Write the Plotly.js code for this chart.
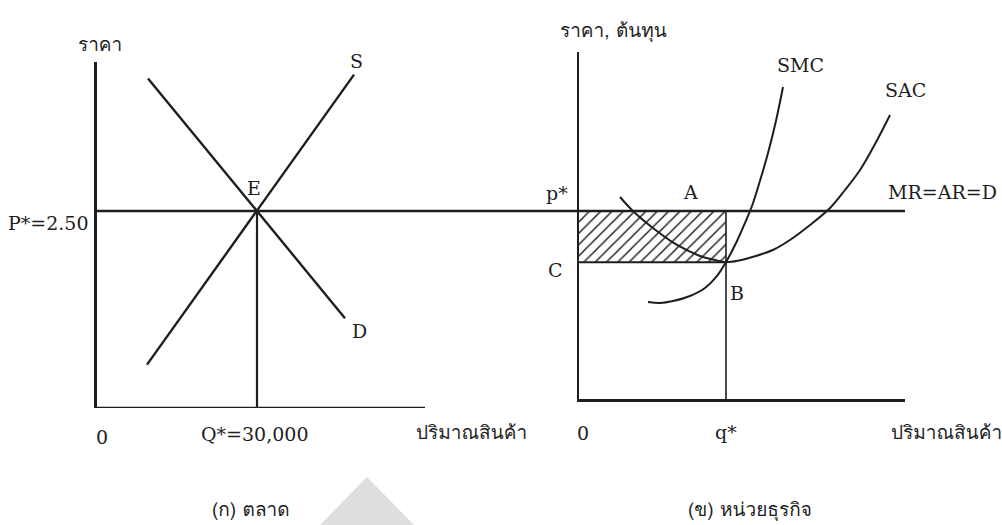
<!DOCTYPE html>
<html>
<head>
<meta charset="utf-8">
<script src="https://cdn.plot.ly/plotly-3.0.1.min.js"></script>
<style>html,body{margin:0;padding:0;background:#fff;}#chart{width:1002px;height:525px;}</style>
</head>
<body>
<div id="chart"></div>
<script>
// ---------- (ก) market ----------
const marketPrice = 2.50;           // P*
const marketQty = 30000;            // Q*
const demandQ = [9560, 46500];
const demandP = [4.18, 1.14];
const supplyQ = [9375, 48190];
const supplyP = [0.55, 4.23];
const marketAxisQEnd = 61500;       // end of drawn quantity axis
const marketQRange = [0, 90375];
const marketPRange = [0, 4.39];

// ---------- (ข) firm ----------
const firmPrice = 2.50;             // p*
const firmQty = 100;                // q*
const firmCost = 1.82;              // C (min SAC at B)
const smcQ = [46.9, 55.1, 63.9, 75.5, 85.7, 93.9, 100, 107.5, 112.9, 117.7, 123.1, 128.6, 134.0, 138.8];
const smcC = [1.29, 1.277, 1.303, 1.37, 1.476, 1.636, 1.82, 2.101, 2.34, 2.566, 2.899, 3.271, 3.697, 4.149];
const sacQ = [27.9, 36.7, 50.3, 66.7, 82.3, 92.5, 100, 108.9, 115.7, 131.9, 143.5, 157.2, 170.8, 181.0, 191.2, 201.4, 211.6];
const sacC = [2.686, 2.5, 2.274, 2.048, 1.902, 1.848, 1.82, 1.842, 1.875, 1.981, 2.114, 2.314, 2.54, 2.779, 3.045, 3.391, 3.777];
const firmQRange = [0, 221.8];
const firmCRange = [0, 4.614];

const INK = '#1e1e1e';
const LATIN = 'DejaVu Serif, Liberation Serif, serif';
const THAI = 'Norasi, Tlwg Typo, Loma, Garuda, Noto Sans Thai, DejaVu Sans, sans-serif';

function line(x, y, xa, ya, w, shape) {
  return {x: x, y: y, xaxis: xa, yaxis: ya, mode: 'lines', type: 'scatter',
          line: {color: INK, width: w, shape: shape || 'linear', smoothing: 1},
          hoverinfo: 'skip'};
}

const traces = [
  // market panel
  line([0, marketAxisQEnd], [0, 0], 'x', 'y', 2.6),
  line([0, marketQRange[1]], [marketPrice, marketPrice], 'x', 'y', 2.4),
  line([marketQty, marketQty], [0, marketPrice], 'x', 'y', 2.2),
  line(demandQ, demandP, 'x', 'y', 2.4),
  line(supplyQ, supplyP, 'x', 'y', 2.4),
  // firm panel: hatched profit area
  {x: [0, firmQty, firmQty, 0, 0], y: [firmCost, firmCost, firmPrice, firmPrice, firmCost],
   xaxis: 'x2', yaxis: 'y2', type: 'scatter', mode: 'lines', fill: 'toself',
   fillcolor: 'white', line: {width: 0, color: 'rgba(0,0,0,0)'},
   fillpattern: {shape: '/', fgcolor: INK, bgcolor: 'white', size: 8, solidity: 0.18},
   hoverinfo: 'skip'},
  line([0, firmQRange[1]], [firmPrice, firmPrice], 'x2', 'y2', 2.4),
  line([0, firmQty], [firmCost, firmCost], 'x2', 'y2', 2.0),
  line([firmQty, firmQty], [0, firmPrice], 'x2', 'y2', 1.6),
  line(smcQ, smcC, 'x2', 'y2', 2.0, 'spline'),
  line(sacQ, sacC, 'x2', 'y2', 2.0, 'spline')
];

function ann(text, x, y, xref, yref, opts) {
  return Object.assign({text: text, x: x, y: y, xref: xref, yref: yref, showarrow: false,
    xanchor: 'center', yanchor: 'middle',
    font: {family: LATIN, size: 19, color: INK}}, opts || {});
}
function px(x) { return x / 1002; }
function py(y) { return 1 - y / 525; }
const thaiFont = {family: THAI, size: 19, color: INK};

const annotations = [
  // market
  ann('ราคา', px(100), py(44), 'paper', 'paper', {font: thaiFont}),
  ann('S', supplyQ[1], supplyP[1], 'x', 'y', {xshift: 2, yshift: 14}),
  ann('D', demandQ[1], demandP[1], 'x', 'y', {xshift: 14, yshift: -13}),
  ann('E', marketQty, marketPrice, 'x', 'y', {xshift: -3, yshift: 23}),
  ann('P*=2.50', 0, marketPrice, 'x', 'y', {xanchor: 'right', xshift: -6, yshift: -12}),
  ann('0', 0, 0, 'x', 'y', {xshift: 5, yshift: -29}),
  ann('Q*=30,000', marketQty, 0, 'x', 'y', {xshift: -3, yshift: -26}),
  ann('ปริมาณสินค้า', px(471), py(432), 'paper', 'paper', {font: thaiFont}),
  ann('(ก) ตลาด', px(251), py(509), 'paper', 'paper', {font: thaiFont}),
  // firm
  ann('ราคา, ต้นทุน', px(613), py(30), 'paper', 'paper', {font: thaiFont}),
  ann('SMC', smcQ[smcQ.length - 1], smcC[smcC.length - 1], 'x2', 'y2', {xshift: 17, yshift: 22}),
  ann('SAC', sacQ[sacQ.length - 1], sacC[sacC.length - 1], 'x2', 'y2', {xshift: 15, yshift: 25}),
  ann('MR=AR=D', px(999), py(192), 'paper', 'paper', {xanchor: 'right'}),
  ann('p*', 0, firmPrice, 'x2', 'y2', {xshift: -22, yshift: 18}),
  ann('A', firmQty, firmPrice, 'x2', 'y2', {xshift: -35, yshift: 19}),
  ann('C', 0, firmCost, 'x2', 'y2', {xshift: -24, yshift: -8}),
  ann('B', firmQty, firmCost, 'x2', 'y2', {xshift: 11, yshift: -31}),
  ann('0', 0, 0, 'x2', 'y2', {xshift: 4, yshift: -34}),
  ann('q*', firmQty, 0, 'x2', 'y2', {yshift: -33}),
  ann('ปริมาณสินค้า', px(946), py(432), 'paper', 'paper', {font: thaiFont}),
  ann('(ข) หน่วยธุรกิจ', px(750), py(509), 'paper', 'paper', {font: thaiFont})
];

const hidden = {showgrid: false, zeroline: false, showticklabels: false, ticks: '', fixedrange: true};

const layout = {
  width: 1002, height: 525,
  margin: {l: 0, r: 0, t: 0, b: 0},
  paper_bgcolor: 'white', plot_bgcolor: 'rgba(0,0,0,0)',
  showlegend: false,
  xaxis: Object.assign({}, hidden, {domain: [px(97), px(579)], range: marketQRange, anchor: 'y'}),
  yaxis: Object.assign({}, hidden, {domain: [py(408), py(62)], range: marketPRange, anchor: 'x',
          showline: true, linecolor: INK, linewidth: 2.6}),
  xaxis2: Object.assign({}, hidden, {domain: [px(579), px(905)], range: firmQRange, anchor: 'y2',
          showline: true, linecolor: INK, linewidth: 2.6}),
  yaxis2: Object.assign({}, hidden, {domain: [py(399), py(52)], range: firmCRange, anchor: 'x2',
          showline: true, linecolor: INK, linewidth: 2.4}),
  annotations: annotations,
  shapes: [
    {type: 'path', xref: 'paper', yref: 'paper', layer: 'below',
     path: 'M ' + px(320) + ' 0 L ' + px(367) + ' ' + py(477) + ' L ' + px(414) + ' 0 Z',
     fillcolor: '#dedede', line: {width: 0}}
  ]
};

Plotly.newPlot('chart', traces, layout, {staticPlot: true, displayModeBar: false});
</script>
</body>
</html>
